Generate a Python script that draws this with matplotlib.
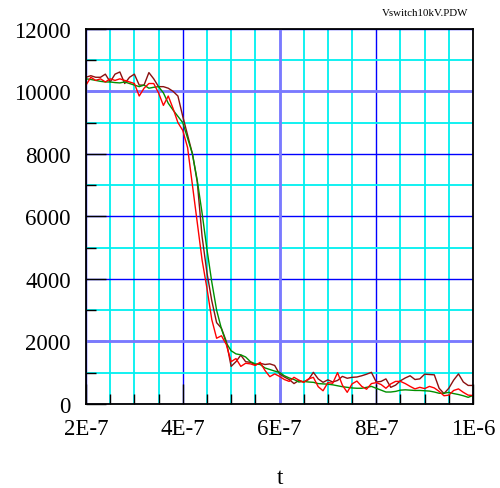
import numpy as np
import matplotlib
matplotlib.use("Agg")
import matplotlib.pyplot as plt
from matplotlib.ticker import MultipleLocator, FuncFormatter

plt.rcParams['font.family'] = ['Liberation Serif', 'DejaVu Serif']

t_start = 2e-7
t_step = 1e-8

red = [10200, 10450, 10350, 10400, 10300, 10400, 10350, 10400, 10350, 10300,
       10250, 9850, 10100, 10250, 10250, 9950, 9550, 9850, 9450, 9000,
       8750, 8200, 7000, 5800, 4600, 3700, 2700, 2100, 2180, 1900,
       1350, 1450, 1200, 1300, 1280, 1230, 1330, 1070, 870, 960,
       880, 780, 720, 850, 760, 690, 800, 850, 550, 420,
       680, 660, 1000, 600, 370, 640, 730, 560, 470, 650,
       680, 620, 500, 640, 720, 720, 650, 560, 480, 530,
       490, 560, 510, 400, 260, 280, 430, 480, 370, 280, 270]

maroon = [10450, 10500, 10450, 10450, 10550, 10300, 10550, 10620, 10250, 10450,
          10550, 10200, 10200, 10600, 10400, 10150, 10150, 10100, 10000, 9850,
          9200, 8600, 8000, 7100, 5350, 4200, 3300, 2600, 2420, 2000,
          1200, 1350, 1560, 1350, 1330, 1250, 1300, 1260, 1280, 1230,
          960, 860, 780, 650, 750, 700, 780, 1010, 800, 690,
          770, 700, 750, 880, 820, 850, 860, 900, 950, 1010,
          700, 720, 800, 530, 600, 740, 830, 900, 780, 800,
          950, 940, 930, 500, 330, 500, 760, 960, 700, 590, 590]

green = [10400, 10380, 10350, 10320, 10300, 10300, 10280, 10270, 10300, 10250,
         10200, 10150, 10200, 10100, 10130, 10150, 9950, 9620, 9400, 9200,
         9000, 8500, 8000, 7150, 6100, 4950, 3900, 3000, 2400, 1950,
         1700, 1600, 1570, 1500, 1350, 1280, 1260, 1150, 1100, 1050,
         1010, 900, 830, 780, 700, 720, 700, 690, 650, 640,
         630, 610, 580, 550, 530, 510, 500, 500, 530, 560,
         500, 440, 380, 380, 400, 440, 450, 440, 430, 430,
         420, 410, 380, 340, 340, 370, 330, 300, 260, 210, 270]

t = t_start + t_step * np.arange(len(red))

fig = plt.figure(figsize=(5.0, 4.89), dpi=100)
ax = fig.add_axes([0.172, 0.172, 0.774, 0.767])

ax.set_xlim(2e-7, 1e-6)
ax.set_ylim(0, 12000)

ax.xaxis.set_major_locator(MultipleLocator(2e-7))
ax.xaxis.set_minor_locator(MultipleLocator(0.5e-7))
ax.yaxis.set_major_locator(MultipleLocator(2000))
ax.yaxis.set_minor_locator(MultipleLocator(1000))

def xfmt(v, pos):
    labels = {2: "2E-7", 4: "4E-7", 6: "6E-7", 8: "8E-7", 10: "1E-6"}
    k = int(round(v / 1e-7))
    return labels.get(k, "")

ax.xaxis.set_major_formatter(FuncFormatter(xfmt))
ax.yaxis.set_major_formatter(FuncFormatter(lambda v, p: "%d" % v))

ax.grid(which='minor', color='#00f0f0', linewidth=1.3, zorder=0)
ax.grid(which='major', color='#0000ff', linewidth=1.0, zorder=0.5)
ax.set_axisbelow(True)

# softer, wider major lines as seen in the reference
ax.axhline(10000, color='#7a7aff', linewidth=2.0, zorder=0.6)
ax.axhline(2000, color='#7a7aff', linewidth=2.0, zorder=0.6)
ax.axvline(6e-7, color='#7a7aff', linewidth=2.0, zorder=0.6)

ax.plot(t, maroon, color='#8b1010', linewidth=1.0, zorder=3)
ax.plot(t, green, color='#009000', linewidth=1.0, zorder=3)
ax.plot(t, red, color='#ff0000', linewidth=1.0, zorder=4)

ax.tick_params(which='major', direction='in', length=14.4, width=1.0,
               color='black', labelsize=16.5, top=False, right=False)
ax.tick_params(axis='y', which='major', pad=11)
ax.tick_params(axis='x', which='major', pad=10)
ax.tick_params(which='minor', direction='in', length=7.2, width=1.0,
               color='black', top=False, right=False)

for s in ax.spines.values():
    s.set_linewidth(1.3)
    s.set_color('black')
    s.set_zorder(5)

fig.text(0.936, 0.972, "Vswitch10kV.PDW", fontsize=7.8, ha='right', va='center')
fig.text(0.559, 0.022, "t", fontsize=16.5, ha='center', va='center')

fig.savefig("out.png", dpi=100)
